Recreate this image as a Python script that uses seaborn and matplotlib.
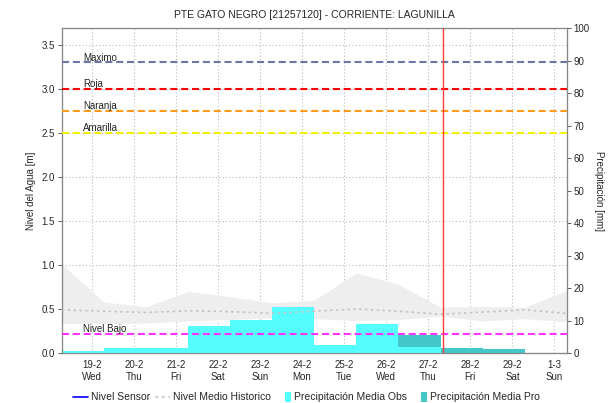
import numpy as np
import pandas as pd
import matplotlib
matplotlib.use("Agg")
import matplotlib.pyplot as plt
import matplotlib.dates as mdates
from matplotlib.lines import Line2D
from matplotlib.patches import Patch, Rectangle
from matplotlib.legend_handler import HandlerPatch
import seaborn as sns

# daily points at 07:00, 18-2 -> 1-3 (2020)
days = pd.date_range("2020-02-18 07:00", "2020-03-01 07:00", freq="D")
hist_high = [1.01, 0.58, 0.525, 0.70, 0.64, 0.57, 0.60, 0.91, 0.78, 0.52, 0.53, 0.52, 0.71]
hist_low = [0.335, 0.335, 0.34, 0.365, 0.38, 0.40, 0.39, 0.37, 0.38, 0.42, 0.365, 0.39, 0.355]
hist_mean = [0.49, 0.475, 0.46, 0.48, 0.47, 0.45, 0.475, 0.50, 0.475, 0.44, 0.465, 0.49, 0.45]

# daily precipitation [mm], one value per 07:00-07:00 interval
precip_obs = [0.6, 1.4, 1.4, 8.4, 10.3, 14.2, 2.6, 9.0, 1.9, 0, 0, 0]
precip_pro = [0, 0, 0, 0, 0, 0, 0, 0, 5.5, 1.6, 1.3, 0]

now = pd.Timestamp("2020-02-27 08:20")

thresholds = {"Maximo": 3.3, "Roja": 3.0, "Naranja": 2.75, "Amarilla": 2.5, "Nivel Bajo": 0.22}
thr_colors = {"Maximo": "#6B76A6", "Roja": "#FF0000", "Naranja": "#FF9A1A",
              "Amarilla": "#F2F200", "Nivel Bajo": "#FF33FF"}

sns.set_style("white")
plt.rcParams["font.family"] = ["Liberation Sans", "DejaVu Sans"]
plt.rcParams["font.size"] = 7

x = mdates.date2num(days)
level_lim = (0, 3.69)

fig = plt.figure(figsize=(6.13, 4.03), dpi=100)
ax = fig.add_axes([0.101, 0.124, 0.8235, 0.8065])

# historical band
ax.fill_between(x, hist_low, hist_high, color="#EEEEEE", lw=0, zorder=1)
ax.set_ylim(*level_lim)
ax.set_xlim(x[0], x[-1])
ax.set_yticks(np.arange(0, 3.6, 0.5))
ax.yaxis.set_major_formatter(plt.FormatStrFormatter("%.1f"))
ax.grid(True, color="#BBBBBB", ls=(0, (1, 2)), lw=0.8)
ax.set_axisbelow(True)
ax.set_ylabel("Nivel del Agua [m]", fontsize=7, labelpad=4)

ax.xaxis.set_major_locator(mdates.DayLocator())
ax.xaxis.set_minor_locator(mdates.HourLocator())
ax.xaxis.set_major_formatter(plt.FuncFormatter(
    lambda v, p: (lambda d: f"{d.day}-{d.month}\n{d.strftime('%a')}")(mdates.num2date(v))))
ax.tick_params(axis="x", which="major", length=3, width=0.6, color="#444444", labelsize=7, pad=2)
ax.tick_params(axis="x", which="minor", length=1.5, width=0.5, color="#444444")
ax.tick_params(axis="y", length=3, width=0.6, color="#444444", labelsize=7, pad=2)

# precipitation (right axis)
ax2 = ax.twinx()
ax2.stairs(precip_pro, x, fill=True, color="#44C7C7", lw=0, zorder=2)
ax2.stairs(precip_obs, x, fill=True, color="#55FFFF", lw=0, zorder=3)
ax2.set_ylim(0, 100)
ax2.set_yticks(np.arange(0, 101, 10))
ax2.set_ylabel("Precipitación [mm]", fontsize=7, rotation=270, labelpad=10)
ax2.tick_params(axis="y", length=3, width=0.6, color="#444444", labelsize=7, pad=2)

# levels on top
ax3 = ax.twinx()
ax3.set_ylim(*level_lim)
ax3.yaxis.set_visible(False)
mean_df = pd.DataFrame({"x": x, "mean": hist_mean})
sns.lineplot(data=mean_df, x="x", y="mean", ax=ax3, color="#C4C4C4", lw=1.2,
             linestyle=(0, (1.5, 2)), zorder=4)
for name, val in thresholds.items():
    ax3.axhline(val, color=thr_colors[name], lw=1.5, ls=(0, (3.4, 1.8)), zorder=5)
    ax3.text(0.042, val - 0.005, name, transform=ax3.get_yaxis_transform(),
             fontsize=7, va="bottom", ha="left", color="#222222", zorder=6)
ax3.axvline(mdates.date2num(now), color="#FF3B3B", lw=1.0, zorder=6)
ax3.set_xlim(x[0], x[-1])
ax3.set_xlabel("")
ax3.set_ylabel("")

for a in (ax, ax2, ax3):
    for s in a.spines.values():
        s.set_color("#888888")
        s.set_linewidth(0.8)

ax.set_title("PTE GATO NEGRO [21257120] - CORRIENTE: LAGUNILLA", fontsize=7.5, pad=7)


def small_box(legend, orig_handle, xdescent, ydescent, width, height, fontsize):
    w = height * 0.75
    return Rectangle((width - w - xdescent, -ydescent - 1), w, height + 2)


handles = [Line2D([], [], color="#0000FF", lw=1.2),
           Line2D([], [], color="#C8C8C8", lw=1.2, ls=(0, (2, 2))),
           Patch(facecolor="#55FFFF", edgecolor="none"),
           Patch(facecolor="#44C7C7", edgecolor="none")]
labels = ["Nivel Sensor", "Nivel Medio Historico", "Precipitación Media Obs", "Precipitación Media Pro"]
fig.legend(handles, labels, loc="lower center", ncol=4, frameon=False, fontsize=7.5,
           bbox_to_anchor=(0.5, -0.022), handlelength=1.4, handletextpad=0.3, columnspacing=0.5,
           handler_map={Patch: HandlerPatch(patch_func=small_box)})

fig.savefig("out.png", dpi=100)
